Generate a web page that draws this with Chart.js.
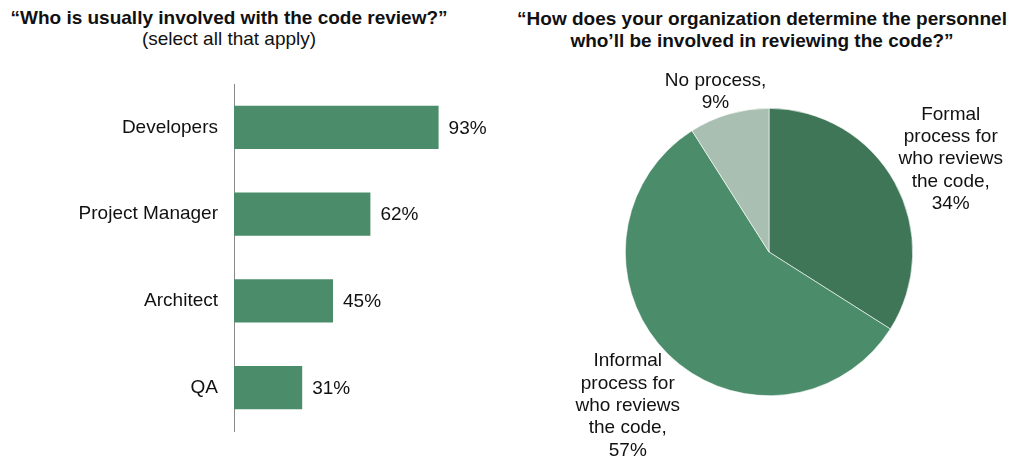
<!DOCTYPE html>
<html>
<head>
<meta charset="utf-8">
<script src="https://cdn.jsdelivr.net/npm/chart.js@4"></script>
<style>
  body { margin: 0; background: #fff; font-family: "Liberation Sans", Arial, sans-serif; color: #111; }
  #wrap { position: relative; width: 1022px; height: 462px; overflow: hidden; }
  .titulo { position: absolute; text-align: center; font-size: 19px; line-height: 22px; }
  .titulo b { font-weight: bold; }
  .titulo span { display: block; line-height: 19px; }
  #tituloBarras { left: 0; top: 7px; width: 458px; }
  #tituloPie { left: 512px; top: 8px; width: 500px; }
  #barras { position: absolute; left: 0; top: 0; }
  #pie { position: absolute; left: 500px; top: 0; }
</style>
</head>
<body>
<div id="wrap">
  <div class="titulo" id="tituloBarras"><b>“Who is usually involved with the code review?”</b><span>(select all that apply)</span></div>
  <div class="titulo" id="tituloPie"><b>“How does your organization determine the personnel<br>who’ll be involved in reviewing the code?”</b></div>
  <canvas id="barras" width="500" height="462"></canvas>
  <canvas id="pie" width="522" height="462"></canvas>
</div>
<script>
// quienes participan en la revision (seleccion multiple)
const roles = ["Developers", "Project Manager", "Architect", "QA"];
const porcentajesRoles = [93, 62, 45, 31];

// como se define quien revisa el codigo
const procesos = [
  ["Formal", "process for", "who reviews", "the code,"],
  ["Informal", "process for", "who reviews", "the code,"],
  ["No process,"]
];
const porcentajesProcesos = [34, 57, 9];

const fuente = '"Liberation Sans", Arial, sans-serif';
const verde = "#4b8d6a";
const coloresPie = ["#3e7657", "#4b8d6a", "#a9bfb1"];

Chart.defaults.font.family = fuente;
Chart.defaults.color = "#111";

// escribe el % a la derecha de cada barra
const etiquetasBarras = {
  id: "etiquetasBarras",
  afterDatasetsDraw(chart) {
    const ctx = chart.ctx;
    const meta = chart.getDatasetMeta(0);
    ctx.save();
    ctx.font = "19px " + fuente;
    ctx.fillStyle = "#111";
    ctx.textAlign = "left";
    ctx.textBaseline = "middle";
    meta.data.forEach((barra, i) => {
      ctx.fillText(porcentajesRoles[i] + "%", barra.x + 10, barra.y + 1);
    });
    ctx.restore();
  }
};

// etiquetas por fuera de la torta, sobre el angulo medio de cada porcion
const etiquetasPie = {
  id: "etiquetasPie",
  afterDatasetsDraw(chart) {
    const ctx = chart.ctx;
    const meta = chart.getDatasetMeta(0);
    const alto = 22.3;
    ctx.save();
    ctx.font = "19px " + fuente;
    ctx.fillStyle = "#111";
    ctx.textAlign = "center";
    ctx.textBaseline = "middle";
    meta.data.forEach((arco, i) => {
      const lineas = procesos[i].concat(porcentajesProcesos[i] + "%");
      const medio = (arco.startAngle + arco.endAngle) / 2;
      const dx = Math.cos(medio);
      const dy = Math.sin(medio);
      const r = arco.outerRadius + 8;
      let ancho = 0;
      lineas.forEach((l) => { ancho = Math.max(ancho, ctx.measureText(l).width); });
      const altoBloque = lineas.length * alto;
      const cx = arco.x + dx * r + dx * ancho / 2 + 3;
      const cy = arco.y + dy * r + dy * altoBloque / 2 + 7;
      lineas.forEach((l, j) => {
        ctx.fillText(l, cx, cy - altoBloque / 2 + alto * (j + 0.5));
      });
    });
    ctx.restore();
  }
};

new Chart(document.getElementById("barras"), {
  type: "bar",
  data: {
    labels: roles,
    datasets: [{
      data: porcentajesRoles,
      backgroundColor: verde,
      borderWidth: 0,
      categoryPercentage: 1,
      barPercentage: 0.5
    }]
  },
  options: {
    indexAxis: "y",
    responsive: false,
    animation: false,
    layout: { padding: { top: 84, bottom: 31, right: 46, left: 0 } },
    plugins: { legend: { display: false }, tooltip: { enabled: false } },
    scales: {
      x: { display: false, min: 0, max: 100 },
      y: {
        grid: { display: false, drawTicks: false },
        border: { display: true, color: "#888", width: 1 },
        ticks: { padding: 16, color: "#111", font: { size: 19 } },
        afterFit(scale) { scale.width = 234; }
      }
    }
  },
  plugins: [etiquetasBarras]
});

new Chart(document.getElementById("pie"), {
  type: "pie",
  data: {
    labels: procesos.map((p) => p.join(" ")),
    datasets: [{
      data: porcentajesProcesos,
      backgroundColor: coloresPie,
      borderColor: "#ffffff",
      borderWidth: 0.6
    }]
  },
  options: {
    responsive: false,
    animation: false,
    layout: { padding: { top: 108, bottom: 66, left: 125, right: 109 } },
    plugins: { legend: { display: false }, tooltip: { enabled: false } }
  },
  plugins: [etiquetasPie]
});
</script>
</body>
</html>
